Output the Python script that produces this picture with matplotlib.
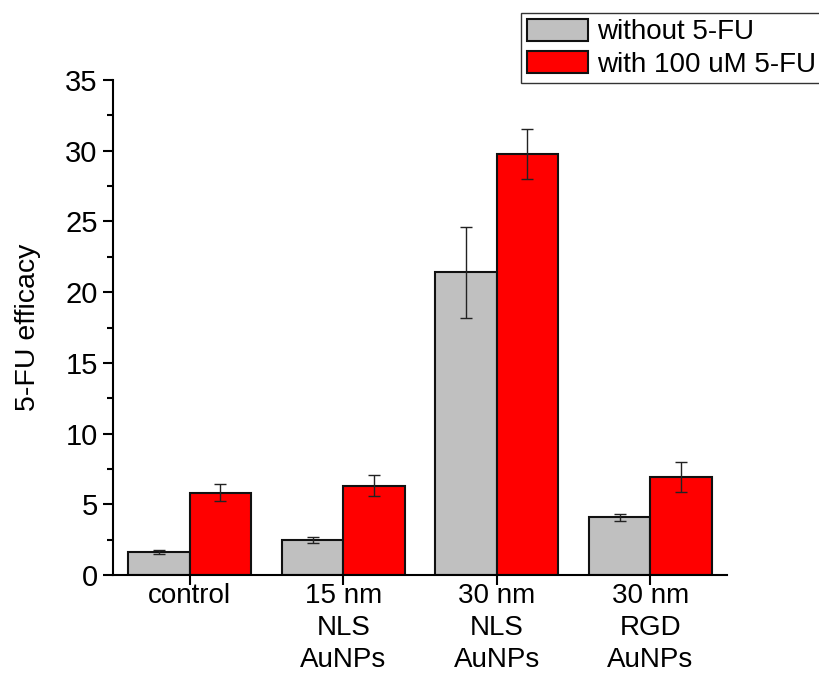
import matplotlib
matplotlib.use("Agg")
import matplotlib.pyplot as plt
from matplotlib.ticker import MultipleLocator
import numpy as np

plt.rcParams['font.family'] = ['Liberation Sans', 'DejaVu Sans']

categories = ["control", "15 nm\nNLS\nAuNPs", "30 nm\nNLS\nAuNPs", "30 nm\nRGD\nAuNPs"]
without_vals = [1.65, 2.5, 21.4, 4.07]
without_err = [0.15, 0.22, 3.2, 0.25]
with_vals = [5.82, 6.32, 29.77, 6.91]
with_err = [0.6, 0.75, 1.75, 1.05]
series_labels = ["without 5-FU", "with 100 uM 5-FU"]

fig = plt.figure(figsize=(8.2, 6.75), dpi=100)
ax = fig.add_axes([113/820, 1-575/675, (727-113)/820, (575-80)/675])

x = np.arange(1, len(categories)+1)
w = 0.4
ekw = dict(ecolor='#222222', elinewidth=1.0, capsize=4, capthick=1.0)
b1 = ax.bar(x - w/2, without_vals, w, yerr=without_err, color='#c0c0c0',
            edgecolor='#111111', linewidth=1.5, error_kw=ekw, label=series_labels[0], zorder=2)
b2 = ax.bar(x + w/2, with_vals, w, yerr=with_err, color='#ff0000',
            edgecolor='#111111', linewidth=1.5, error_kw=ekw, label=series_labels[1], zorder=2)

ax.set_xlim(0.5, 4.5)
ax.set_ylim(0, 35)
ax.yaxis.set_major_locator(MultipleLocator(5))
ax.yaxis.set_minor_locator(MultipleLocator(2.5))
ax.set_xticks(x)
ax.set_xticklabels(categories, fontsize=20, linespacing=1.3)
ax.tick_params(axis='y', labelsize=21, direction='out', length=7, width=1.5, pad=4)
ax.tick_params(axis='y', which='minor', direction='out', length=4, width=1.5)
ax.tick_params(axis='x', direction='out', length=7, width=1.5, pad=-1)
for s in ['top', 'right']:
    ax.spines[s].set_visible(False)
for s in ['left', 'bottom']:
    ax.spines[s].set_linewidth(1.5)
ax.set_ylabel("5-FU efficacy", fontsize=20.5)
ax.yaxis.set_label_coords(-0.118, 0.5)

leg = fig.legend(handles=[b1, b2], labels=series_labels, loc='upper left',
                 bbox_to_anchor=(521/820, 1-13/675), bbox_transform=fig.transFigure,
                 fontsize=20, fancybox=False, framealpha=1, edgecolor='#333333',
                 handlelength=2.2, handleheight=0.85, borderpad=0.2, labelspacing=0.2,
                 handletextpad=0.33, borderaxespad=0)
leg.get_frame().set_linewidth(1.0)

fig.savefig("out.png", dpi=100)
